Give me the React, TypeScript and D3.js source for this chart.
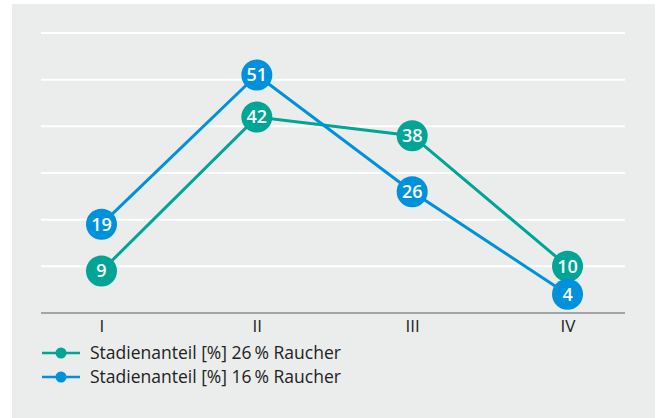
import React, { useEffect, useRef } from 'react'
import * as d3 from 'd3'

const stages = ['I', 'II', 'III', 'IV']
const raucher26 = [9, 42, 38, 10]
const raucher16 = [19, 51, 26, 4]
const yTicks = [0, 10, 20, 30, 40, 50, 60]
const seriesNames = ['Stadienanteil [%] 26\u2009% Raucher', 'Stadienanteil [%] 16\u2009% Raucher']

const teal = '#00a596'
const blue = '#0091dc'

const App: React.FC = () => {
  const svgRef = useRef<SVGSVGElement | null>(null)

  useEffect(() => {
    if (!svgRef.current) return
    const svg = d3.select(svgRef.current)
    svg.selectAll('*').remove()

    const width = 660
    const height = 418
    const font = "'Open Sans', sans-serif"

    svg
      .attr('width', width)
      .attr('height', height)
      .style('display', 'block')
      .style('position', 'absolute')
      .style('left', '0px')
      .style('top', '0px')

    // grey panel
    svg
      .append('rect')
      .attr('x', 12)
      .attr('y', 4)
      .attr('width', 643)
      .attr('height', height - 4)
      .attr('fill', '#ebecec')

    const x = d3.scalePoint().domain(stages).range([44, 625]).padding(0.37)
    const y = d3.scaleLinear().domain([0, 60]).range([313, 33])

    // grid
    svg
      .append('g')
      .selectAll('line')
      .data(yTicks.filter(d => d > 0))
      .join('line')
      .attr('x1', 41)
      .attr('x2', 625)
      .attr('y1', d => y(d))
      .attr('y2', d => y(d))
      .attr('stroke', '#fff')
      .attr('stroke-width', 2)

    // x axis
    const axis = svg
      .append('g')
      .attr('transform', `translate(0,${y(0)})`)
      .call(d3.axisBottom(x).tickSize(0).tickPadding(7))
    axis.select('.domain').attr('stroke', '#a3a4a6').attr('stroke-width', 2).attr('d', 'M41,0H625')
    axis
      .selectAll('.tick text')
      .attr('font-family', font)
      .attr('font-size', 17)
      .attr('fill', '#222')

    const series = [
      { values: raucher26, color: teal },
      { values: raucher16, color: blue },
    ]

    const line = d3
      .line<number>()
      .x((d, i) => x(stages[i])!)
      .y(d => y(d))

    series.forEach(s => {
      svg
        .append('path')
        .datum(s.values)
        .attr('d', line)
        .attr('fill', 'none')
        .attr('stroke', s.color)
        .attr('stroke-width', 3)
    })

    series.forEach(s => {
      const g = svg
        .append('g')
        .selectAll('g')
        .data(s.values)
        .join('g')
        .attr('transform', (d, i) => `translate(${x(stages[i])},${y(d)})`)
      g.append('circle').attr('r', 15.5).attr('fill', s.color)
      g.append('text')
        .attr('text-anchor', 'middle')
        .attr('dy', '0.36em')
        .attr('font-family', font)
        .attr('font-size', 18)
        .attr('font-weight', 600)
        .attr('fill', '#fff')
        .text(d => d)
    })

    // legend
    const legend = svg
      .append('g')
      .selectAll('g')
      .data(series)
      .join('g')
      .attr('transform', (d, i) => `translate(0,${353 + i * 24})`)
    legend
      .append('line')
      .attr('x1', 42)
      .attr('x2', 80)
      .attr('stroke', d => d.color)
      .attr('stroke-width', 2.5)
    legend.append('circle').attr('cx', 61).attr('r', 5.5).attr('fill', d => d.color)
    legend
      .append('text')
      .attr('x', 90)
      .attr('dy', '0.35em')
      .attr('font-family', font)
      .attr('font-size', 17.5)
      .attr('fill', '#222')
      .text((d, i) => seriesNames[i])
  }, [])

  return <svg ref={svgRef}></svg>
}

export default App
